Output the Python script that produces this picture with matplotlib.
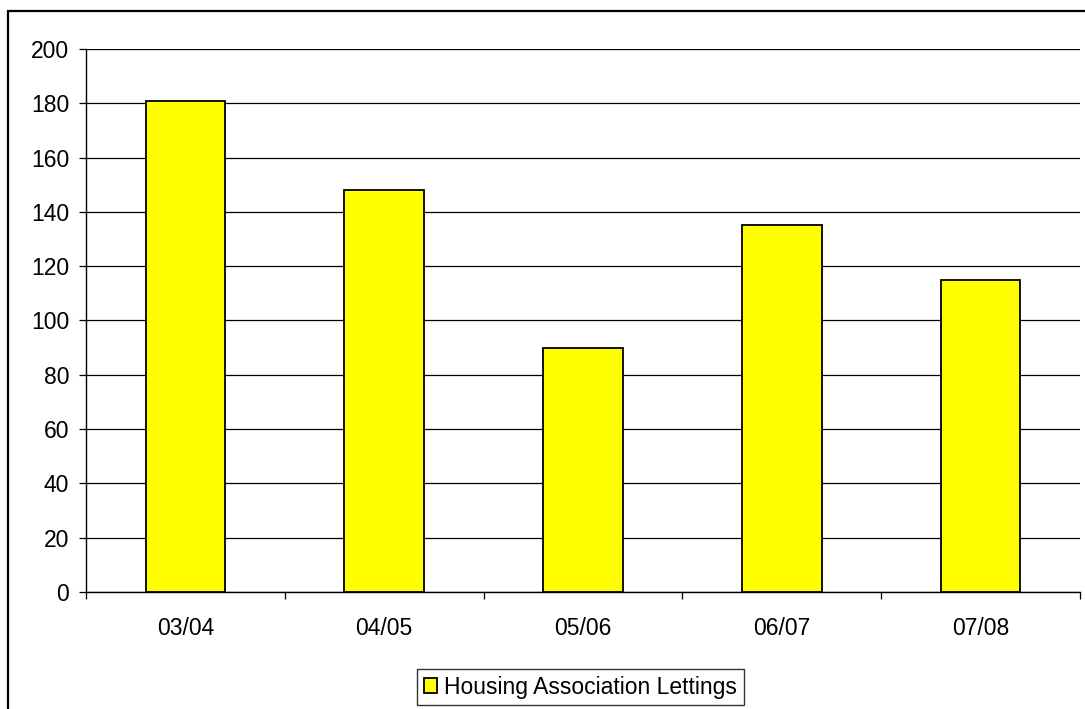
import matplotlib
matplotlib.use("Agg")
import matplotlib.pyplot as plt
from matplotlib.patches import Rectangle

categories = ["03/04", "04/05", "05/06", "06/07", "07/08"]
lettings = [181, 148, 90, 135, 115]
series_name = "Housing Association Lettings"

plt.rcParams["font.family"] = ["Liberation Sans", "DejaVu Sans"]

fig = plt.figure(figsize=(10.85, 7.09), dpi=100)
ax = fig.add_axes([0.0793, 0.165, 0.9161, 0.766])

x = list(range(len(categories)))
ax.bar(x, lettings, width=0.4, color="#FFFF00", edgecolor="black",
       linewidth=1.3, label=series_name, zorder=3)

ax.set_xlim(-0.5, len(categories) - 0.5)
ax.set_ylim(0, 200)
ax.set_yticks(range(0, 201, 20))
ax.yaxis.grid(True, color="black", linewidth=0.9, zorder=0)

ax.set_xticks(x)
ax.set_xticklabels(categories)
ax.set_xticks([i - 0.5 for i in range(len(categories) + 1)], minor=True)
ax.tick_params(axis="x", which="major", length=0, pad=18, labelsize=16.5)
ax.tick_params(axis="x", which="minor", length=5, width=0.9, direction="out")
ax.tick_params(axis="y", length=5, width=0.9, pad=7, labelsize=16.5)

for side in ("top", "right"):
    ax.spines[side].set_visible(False)
for side in ("left", "bottom"):
    ax.spines[side].set_linewidth(1.0)
    ax.spines[side].set_zorder(4)

leg = fig.legend(loc="center", bbox_to_anchor=(0.535, 0.031), fontsize=16.5,
                 frameon=True, fancybox=False, edgecolor="black",
                 handlelength=0.6, handleheight=0.6, handletextpad=0.3,
                 borderpad=0.3, borderaxespad=0)
leg.get_frame().set_linewidth(1.0)

fig.patches.append(Rectangle((8 / 1085, -0.1), 1.2, 1.1 - 11 / 709,
                             transform=fig.transFigure, fill=False,
                             edgecolor="black", linewidth=1.6))

fig.savefig("out.png", dpi=100)
